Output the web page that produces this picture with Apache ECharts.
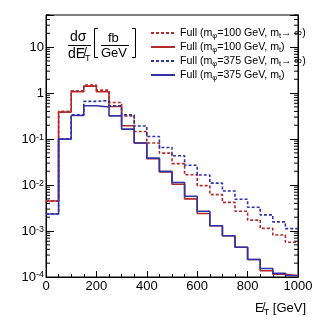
<!DOCTYPE html>
<html>
<head>
<meta charset="utf-8">
<script src="https://cdn.jsdelivr.net/npm/echarts@6/dist/echarts.min.js"></script>
<style>
html, body { margin: 0; padding: 0; background: #fff; }
#main { width: 332px; height: 322px; }
</style>
</head>
<body>
<div id="main"></div>
<script>
// low edge of each 50 GeV bin
var binLow = [0, 50, 100, 150, 200, 250, 300, 350, 400, 450, 500, 550, 600, 650, 700, 750, 800, 850, 900, 950];
var xMax = 1000;

// dsigma/dMET [fb/GeV]
var full100Inf = [0.0045, 0.40, 1.12, 1.49, 1.16, 0.625, 0.32, 0.146, 0.082, 0.0496, 0.0293, 0.0167, 0.0097, 0.0062, 0.0042, 0.0027, 0.00173, 0.00114, 0.00082, 0.00057];
var full100Mt  = [0.0045, 0.386, 1.07, 1.42, 1.07, 0.51, 0.195, 0.082, 0.0373, 0.0192, 0.0104, 0.0050, 0.0024, 0.0013, 0.00079, 0.000445, 0.000241, 0.000137, 0.000115, 0.000106];
var full375Inf = [0.00234, 0.102, 0.337, 0.66, 0.69, 0.53, 0.336, 0.192, 0.114, 0.0657, 0.0434, 0.0269, 0.0165, 0.0110, 0.0074, 0.0049, 0.0033, 0.00224, 0.00158, 0.00113];
var full375Mt  = [0.00234, 0.100, 0.326, 0.53, 0.50, 0.32, 0.165, 0.082, 0.0386, 0.0198, 0.0114, 0.0057, 0.0027, 0.0013, 0.00079, 0.000445, 0.000241, 0.000153, 0.00012, 0.000108];

var seriesNames = ['f100inf', 'f100mt', 'f375inf', 'f375mt'];
var legendLabels = [
    'Full (m{sub|φ}=100 GeV, m{sub|t}→ ∞)',
    'Full (m{sub|φ}=100 GeV, m{sub|t})',
    'Full (m{sub|φ}=375 GeV, m{sub|t}→ ∞)',
    'Full (m{sub|φ}=375 GeV, m{sub|t})'
];
var yTickLabels = {'10': ['10', ''], '1': ['1', ''], '0.1': ['10', '-1'], '0.01': ['10', '-2'], '0.001': ['10', '-3'], '0.0001': ['10', '-4']};

var red = '#b22a2a', blue = '#3232a8';
var font = 'Liberation Sans, Arial, sans-serif';

// log minor ticks 2..9 x 10^n
var minorTicks = [];
[1e-4, 1e-3, 1e-2, 1e-1, 1, 10].forEach(function (d) {
    [2, 3, 4, 5, 6, 7, 8, 9].forEach(function (m) {
        var v = +(d * m).toPrecision(3);
        if (v <= 50) minorTicks.push([0, v]);
    });
});

function hist(vals) {
    var pts = binLow.map(function (x, i) { return [x, vals[i]]; });
    pts.push([xMax, vals[vals.length - 1]]);
    return pts;
}

function histSeries(name, vals, color, dashed) {
    return {
        name: name,
        type: 'line',
        step: 'end',
        data: hist(vals),
        symbol: 'none',
        lineStyle: { color: color, width: 1.6, type: dashed ? [3, 2] : 'solid' },
        itemStyle: { color: color },
        z: 3
    };
}

var myChart = echarts.init(document.getElementById('main'), null, { renderer: 'canvas' });

var yAxisBase = {
    type: 'log',
    logBase: 10,
    min: 1e-4,
    max: 50,
    axisLine: { show: true, lineStyle: { color: '#000', width: 1 } },
    axisTick: { show: true, inside: true, length: 8, lineStyle: { color: '#000' } },
    splitLine: { show: false }
};

option = {
    animation: false,
    grid: { left: 46, right: 34, top: 15, bottom: 45, show: true, borderColor: '#000', borderWidth: 1 },
    legend: {
        data: seriesNames.map(function (n) { return { name: n, itemStyle: { opacity: 0 } }; }),
        orient: 'vertical',
        left: 145,
        top: 21,
        itemWidth: 24,
        itemHeight: 10,
        itemGap: 0,
        formatter: function (name) { return legendLabels[seriesNames.indexOf(name)]; },
        textStyle: {
            fontFamily: font, fontSize: 10.6, color: '#000', lineHeight: 14,
            rich: {
                sub: { fontFamily: font, fontSize: 7.5, verticalAlign: 'bottom', lineHeight: 6, padding: [6, 0, 0, 0] }
            }
        }
    },
    xAxis: {
        type: 'value',
        min: 0,
        max: xMax,
        interval: 200,
        axisLine: { show: true, lineStyle: { color: '#000', width: 1 } },
        axisTick: { show: true, inside: true, length: 6, lineStyle: { color: '#000' } },
        minorTick: { show: true, splitNumber: 4, length: 3, lineStyle: { color: '#000' } },
        axisLabel: { fontFamily: font, fontSize: 13, color: '#000', margin: 3, formatter: function (v) { return String(v); } },
        splitLine: { show: false }
    },
    yAxis: [
        Object.assign({}, yAxisBase, {
            position: 'left',
            axisLabel: {
                margin: 2,
                fontFamily: font, fontSize: 13, color: '#000',
                formatter: function (v) {
                    var lab = yTickLabels[String(+v.toPrecision(3))];
                    if (!lab) return '';
                    return '{n|' + lab[0] + '}' + (lab[1] ? '{sup|' + lab[1] + '}' : '');
                },
                rich: {
                    n: { fontFamily: font, fontSize: 13, color: '#000' },
                    sup: { fontFamily: font, fontSize: 9, color: '#000', verticalAlign: 'top', lineHeight: 6, padding: [0, 0, 8, 0] }
                }
            }
        }),
        Object.assign({}, yAxisBase, {
            position: 'right',
            axisLabel: { show: false }
        })
    ],
    graphic: [
        { type: 'text', left: 70, top: 30, style: { text: 'dσ', font: '14px ' + font, fill: '#000' } },
        { type: 'line', shape: { x1: 68, y1: 45.5, x2: 91, y2: 45.5 }, style: { stroke: '#000', lineWidth: 1 } },
        { type: 'text', left: 68, top: 47, style: { text: 'dE̸{s|T}', font: '14px ' + font, fill: '#000',
            rich: { s: { fontSize: 9, fontFamily: font, padding: [9, 0, 0, 0] } } } },
        { type: 'polyline', shape: { points: [[98, 28.5], [94.5, 28.5], [94.5, 57.5], [98, 57.5]] }, style: { stroke: '#000', lineWidth: 1, fill: null } },
        { type: 'text', left: 108, top: 32, style: { text: 'fb', font: '13px ' + font, fill: '#000' } },
        { type: 'line', shape: { x1: 101, y1: 45.5, x2: 129, y2: 45.5 }, style: { stroke: '#000', lineWidth: 1 } },
        { type: 'text', left: 101, top: 47, style: { text: 'GeV', font: '13px ' + font, fill: '#000' } },
        { type: 'polyline', shape: { points: [[132, 28.5], [135.5, 28.5], [135.5, 57.5], [132, 57.5]] }, style: { stroke: '#000', lineWidth: 1, fill: null } },
        { type: 'text', right: 26, top: 302, style: { text: 'E̸{s|T} [GeV]', font: '13px ' + font, fill: '#000',
            rich: { s: { fontSize: 9, fontFamily: font, padding: [8, 0, 0, 0] } } } }
    ],
    series: [
        histSeries('f100inf', full100Inf, red, true),
        histSeries('f100mt', full100Mt, red, false),
        histSeries('f375inf', full375Inf, blue, true),
        histSeries('f375mt', full375Mt, blue, false),
        {
            name: 'minorTicks',
            type: 'custom',
            silent: true,
            clip: false,
            data: minorTicks,
            renderItem: function (params, api) {
                var v = api.value(1);
                var l = api.coord([0, v]);
                var r = api.coord([xMax, v]);
                return {
                    type: 'group',
                    children: [
                        { type: 'line', shape: { x1: l[0], y1: l[1], x2: l[0] + 4, y2: l[1] }, style: { stroke: '#000', lineWidth: 1 } },
                        { type: 'line', shape: { x1: r[0], y1: r[1], x2: r[0] - 4, y2: r[1] }, style: { stroke: '#000', lineWidth: 1 } }
                    ]
                };
            }
        }
    ]
};

myChart.setOption(option);
</script>
</body>
</html>
